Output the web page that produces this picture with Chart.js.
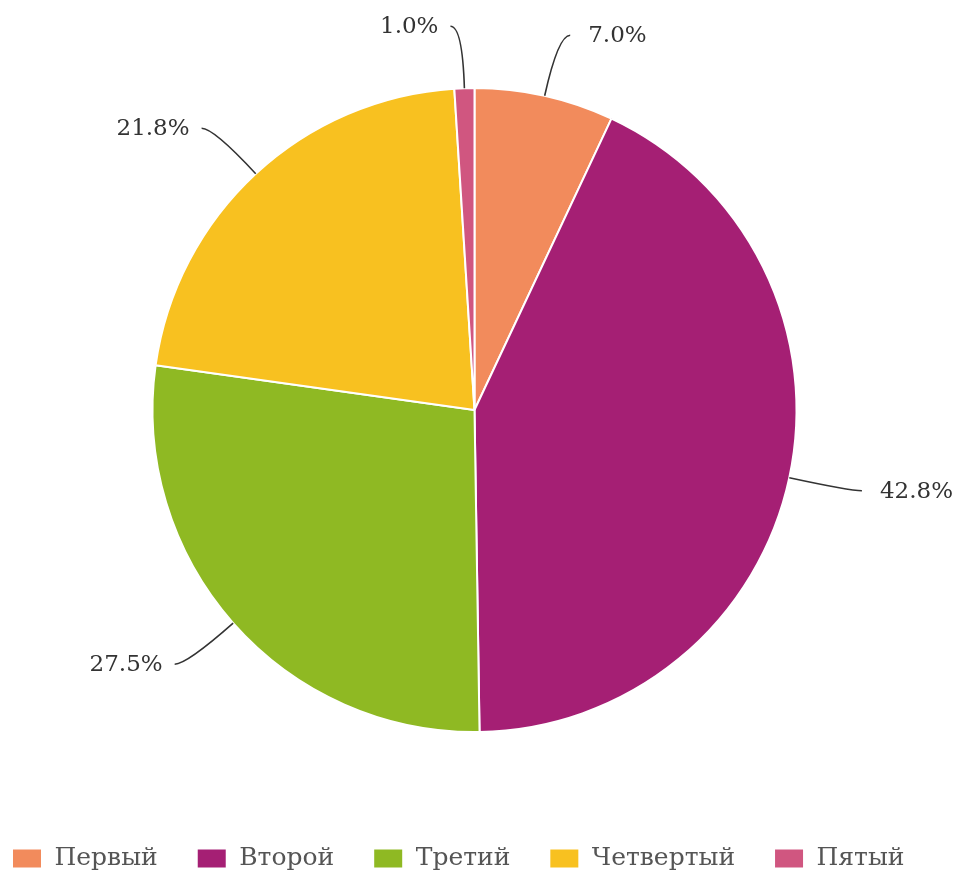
<!DOCTYPE html>
<html><head><meta charset="utf-8">
<script src="https://cdn.jsdelivr.net/npm/chart.js@4/dist/chart.umd.min.js"></script>
<style>html,body{margin:0;padding:0;background:#fff}#wrap{width:959px;height:876px;position:relative}</style>
</head><body><div id="wrap"><canvas id="c" width="959" height="876"></canvas></div>
<script>
const categories = ['Первый', 'Второй', 'Третий', 'Четвертый', 'Пятый'];
const values = [7.0, 42.8, 27.5, 21.8, 1.0];
const valueLabels = ['7.0%', '42.8%', '27.5%', '21.8%', '1.0%'];
const colors = ['#F28B5C', '#A51F74', '#8FB923', '#F8C120', '#D05680'];

const FONT = '"DejaVu Serif", serif';

const legendFitPlugin = {
  id: 'legendFit',
  beforeLayout(chart) {
    const lg = chart.legend;
    if (lg && !lg._patched) {
      const orig = lg.fit;
      lg.fit = function () { orig.call(this); this.height = 69; };
      lg._patched = true;
    }
  },
  afterLayout(chart) {
    const lg = chart.legend;
    if (lg) { lg.left = -27; }
  }
};

const leaderPlugin = {
  id: 'leader',
  afterDatasetsDraw(chart) {
    const ctx = chart.ctx;
    const meta = chart.getDatasetMeta(0);
    ctx.save();
    ctx.strokeStyle = '#333';
    ctx.lineWidth = 1.6;
    ctx.fillStyle = '#333';
    ctx.font = '23px ' + FONT;
    ctx.textBaseline = 'middle';
    meta.data.forEach((arc, i) => {
      const p = arc.getProps(['x', 'y', 'startAngle', 'endAngle', 'outerRadius'], true);
      const mid = (p.startAngle + p.endAngle) / 2;
      const r = p.outerRadius;
      const c = Math.cos(mid), s = Math.sin(mid);
      const x0 = p.x + c * r, y0 = p.y + s * r;
      const x1 = p.x + c * (r + 62), y1 = p.y + s * (r + 62);
      const dir = c >= 0 ? 1 : -1;
      const x2 = x1 + dir * 12, y2 = y1;
      ctx.beginPath();
      ctx.moveTo(x0, y0);
      ctx.quadraticCurveTo(x1, y1, x2, y2);
      ctx.stroke();
      ctx.textAlign = dir > 0 ? 'left' : 'right';
      ctx.fillText(valueLabels[i], x2 + dir * (dir > 0 ? 18 : 12), y2 + 1);
    });
    ctx.restore();
  }
};

new Chart(document.getElementById('c'), {
  type: 'pie',
  data: {
    labels: categories,
    datasets: [{
      data: values,
      backgroundColor: colors,
      borderColor: '#ffffff',
      borderWidth: 2,
      radius: 322
    }]
  },
  options: {
    responsive: false,
    animation: false,
    layout: { padding: { left: 0, right: 10, top: 13, bottom: 0 } },
    plugins: {
      legend: {
        position: 'bottom',
        align: 'start',
        labels: {
          boxWidth: 30,
          boxHeight: 20,
          padding: 39,
          color: '#555',
          font: { family: FONT, size: 25 }
        }
      },
      tooltip: { enabled: false }
    }
  },
  plugins: [legendFitPlugin, leaderPlugin]
});
</script>
</body></html>
